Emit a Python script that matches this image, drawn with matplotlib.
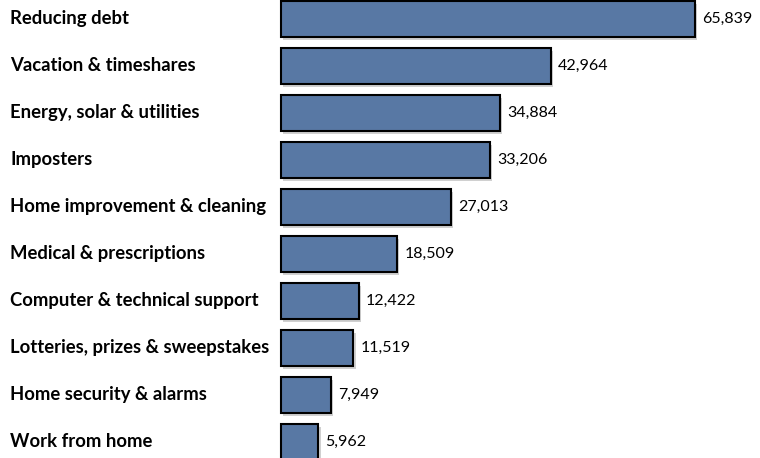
import matplotlib.pyplot as plt
import matplotlib.patheffects as pe
import matplotlib.transforms as mtransforms

categories = ["Reducing debt", "Vacation & timeshares", "Energy, solar & utilities",
              "Imposters", "Home improvement & cleaning", "Medical & prescriptions",
              "Computer & technical support", "Lotteries, prizes & sweepstakes",
              "Home security & alarms", "Work from home"]
values = [65839, 42964, 34884, 33206, 27013, 18509, 12422, 11519, 7949, 5962]

plt.rcParams['font.family'] = ['Lato', 'DejaVu Sans']

fig = plt.figure(figsize=(7.6, 4.58), dpi=100)
ax = fig.add_axes([0, 0, 1, 1])

# pixel layout: bars start at x=281, 65839 ends at x=695; rows 47 px apart
scale = 414 / values[0]
ax.set_xlim(-281 / scale, (760 - 281) / scale)
ax.set_ylim((458 - 19) / 47, -19 / 47)

pos = list(range(len(values)))
bars = ax.barh(pos, values, height=0.77, left=0, color='#5878a4',
               edgecolor='black', linewidth=1.5)
for b in bars:
    b.set_path_effects([pe.SimplePatchShadow(offset=(1.5, -2), shadow_rgbFace='#d0d0d0', alpha=1),
                        pe.Normal()])

trans = mtransforms.blended_transform_factory(fig.transFigure, ax.transData)
for i, (c, v) in enumerate(zip(categories, values)):
    ax.text(10 / 760, i, c, transform=trans, ha='left', va='center',
            fontsize=13.3, fontweight='bold', color='black')
    ax.text(v + 7 / scale, i, f"{v:,}", ha='left', va='center',
            fontsize=11.5, color='black')

ax.axis('off')
fig.savefig('out.png', dpi=100)
